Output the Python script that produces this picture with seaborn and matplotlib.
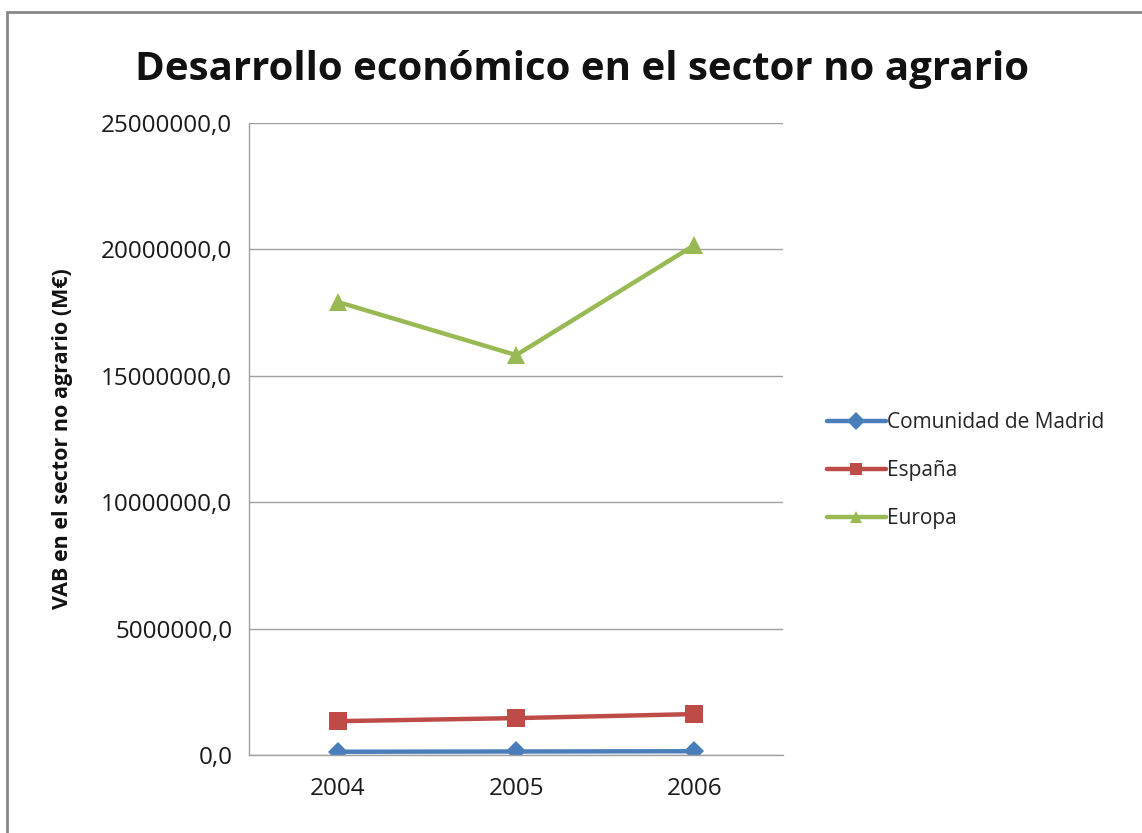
import pandas as pd
import seaborn as sns
import matplotlib.pyplot as plt
from matplotlib.ticker import FuncFormatter
from matplotlib.patches import Rectangle

years = ['2004', '2005', '2006']
madrid = [130000, 140000, 150000]
espana = [1340000, 1460000, 1620000]
europa = [17920000, 15820000, 20170000]
series = ['Comunidad de Madrid', 'España', 'Europa']

df = pd.DataFrame({
    'year': years * 3,
    'value': madrid + espana + europa,
    'region': [s for s in series for _ in years],
})

sns.set_style('white')
plt.rcParams['font.family'] = ['Open Sans', 'DejaVu Sans']

fig = plt.figure(figsize=(11.42, 8.33), dpi=100)
ax = fig.add_axes([0.218, 0.0936, 0.468, 0.7587])

palette = {'Comunidad de Madrid': '#4a7ebb', 'España': '#be4b48', 'Europa': '#98b954'}
markers = {'Comunidad de Madrid': 'D', 'España': 's', 'Europa': '^'}
sns.lineplot(data=df, x='year', y='value', hue='region', style='region',
             palette=palette, markers=markers, dashes=False, linewidth=3.2,
             markersize=13, markeredgewidth=0, ax=ax, sort=False)
# diamond looks smaller in the original
ax.lines[0].set_markersize(10)

ax.set_xlim(-0.5, 2.5)
ax.set_ylim(0, 25000000)
ax.set_yticks(range(0, 25000001, 5000000))
ax.yaxis.set_major_formatter(FuncFormatter(lambda v, p: f'{v:.1f}'.replace('.', ',')))
ax.grid(axis='y', color='#a0a0a0', linewidth=1)
ax.set_axisbelow(True)
for s in ['top', 'right']:
    ax.spines[s].set_visible(False)
for s in ['left', 'bottom']:
    ax.spines[s].set_color('#a0a0a0')
    ax.spines[s].set_linewidth(1)
ax.tick_params(axis='both', labelsize=17.5, colors='#1a1a1a', length=0, pad=12)
ax.tick_params(axis='x', pad=16)
ax.set_xlabel('')
ax.set_ylabel('VAB en el sector no agrario (M€)', fontsize=15.5, fontweight='bold',
              labelpad=20, color='#111111')

leg = ax.legend(title=None, loc='center left', bbox_to_anchor=(0.708, 0.435),
                bbox_transform=fig.transFigure, frameon=False, fontsize=15,
                labelspacing=1.3, handlelength=2.8, handletextpad=0.05)
for h in leg.legend_handles:
    h.set_markersize(9)

fig.suptitle('Desarrollo económico en el sector no agrario', x=0.51, y=0.94,
             fontsize=29, fontweight='bold', color='#111111')

fig.patches.append(Rectangle((7 / 1142, -0.1), 1.2, 1 - 12 / 833 + 0.1,
                             transform=fig.transFigure, fill=False,
                             edgecolor='#888888', linewidth=2))

fig.savefig('out.png', dpi=100)
